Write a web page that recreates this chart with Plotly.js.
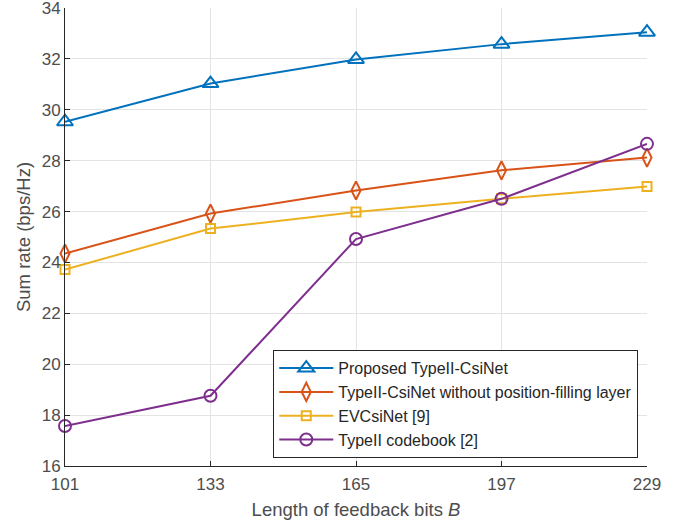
<!DOCTYPE html>
<html>
<head>
<meta charset="utf-8">
<script src="https://cdn.plot.ly/plotly-3.0.1.min.js"></script>
<style>html,body{margin:0;padding:0;background:#fff}</style>
</head>
<body>
<div id="chart" style="width:690px;height:525px"></div>
<script>
const bits = [101, 133, 165, 197, 229];
const proposed = [29.53, 31.03, 31.98, 32.58, 33.05];
const noFilling = [24.35, 25.92, 26.83, 27.62, 28.12];
const evcsinet = [23.72, 25.33, 25.98, 26.50, 26.98];
const codebook = [17.57, 18.76, 24.92, 26.50, 28.66];
const names = ["Proposed TypeII-CsiNet", "TypeII-CsiNet without position-filling layer", "EVCsiNet [9]", "TypeII codebook [2]"];
const xTicks = [101, 133, 165, 197, 229];

const colors = ["#0072BD", "#D95319", "#EDB120", "#7E2F8E"];
const symbols = ["triangle-up-open", "diamond-tall-open", "square-open", "circle-open"];
const sizes = [14, 13, 9, 12];
const series = [proposed, noFilling, evcsinet, codebook];

const traces = series.map((ys, i) => ({
  x: bits, y: ys, name: names[i], type: "scatter", mode: "lines+markers",
  cliponaxis: false,
  line: {color: colors[i], width: 2},
  marker: {symbol: symbols[i], size: sizes[i], color: colors[i], line: {color: colors[i], width: 2}}
}));

const fontFam = "Arial, 'Liberation Sans', sans-serif";
const layout = {
  width: 690, height: 525,
  margin: {l: 65, r: 43, t: 8, b: 59},
  paper_bgcolor: "#fff", plot_bgcolor: "#fff",
  font: {family: fontFam, color: "#262626", size: 16},
  showlegend: true,
  legend: {
    x: 0.985, y: 0.017, xanchor: "right", yanchor: "bottom",
    bgcolor: "#fff", bordercolor: "#262626", borderwidth: 1,
    font: {family: fontFam, size: 16, color: "#262626"},
    tracegroupgap: 0, itemwidth: 54
  },
  xaxis: {
    range: [101, 229], tickvals: xTicks, ticktext: xTicks.map(String),
    showgrid: true, gridcolor: "#e3e3e3", gridwidth: 1,
    showline: true, linecolor: "#262626", linewidth: 1,
    ticks: "inside", ticklen: 5, tickcolor: "#262626",
    ticklabeloverflow: "allow", ticklabelstandoff: 3,
    zeroline: false, tickfont: {size: 17, color: "#4d4d4d"},
    title: {text: "Length of feedback bits <i>B</i>", font: {size: 18.5, color: "#4d4d4d"}, standoff: 9}
  },
  yaxis: {
    range: [16, 34], dtick: 2, tick0: 16,
    showgrid: true, gridcolor: "#e3e3e3", gridwidth: 1,
    showline: true, linecolor: "#262626", linewidth: 1,
    ticks: "inside", ticklen: 5, tickcolor: "#262626",
    ticklabeloverflow: "allow",
    zeroline: false, tickfont: {size: 17, color: "#4d4d4d"},
    title: {text: "Sum rate (bps/Hz)", font: {size: 18.5, color: "#4d4d4d"}, standoff: 6}
  }
};

Plotly.newPlot("chart", traces, layout, {displayModeBar: false, staticPlot: true});
</script>
</body>
</html>
